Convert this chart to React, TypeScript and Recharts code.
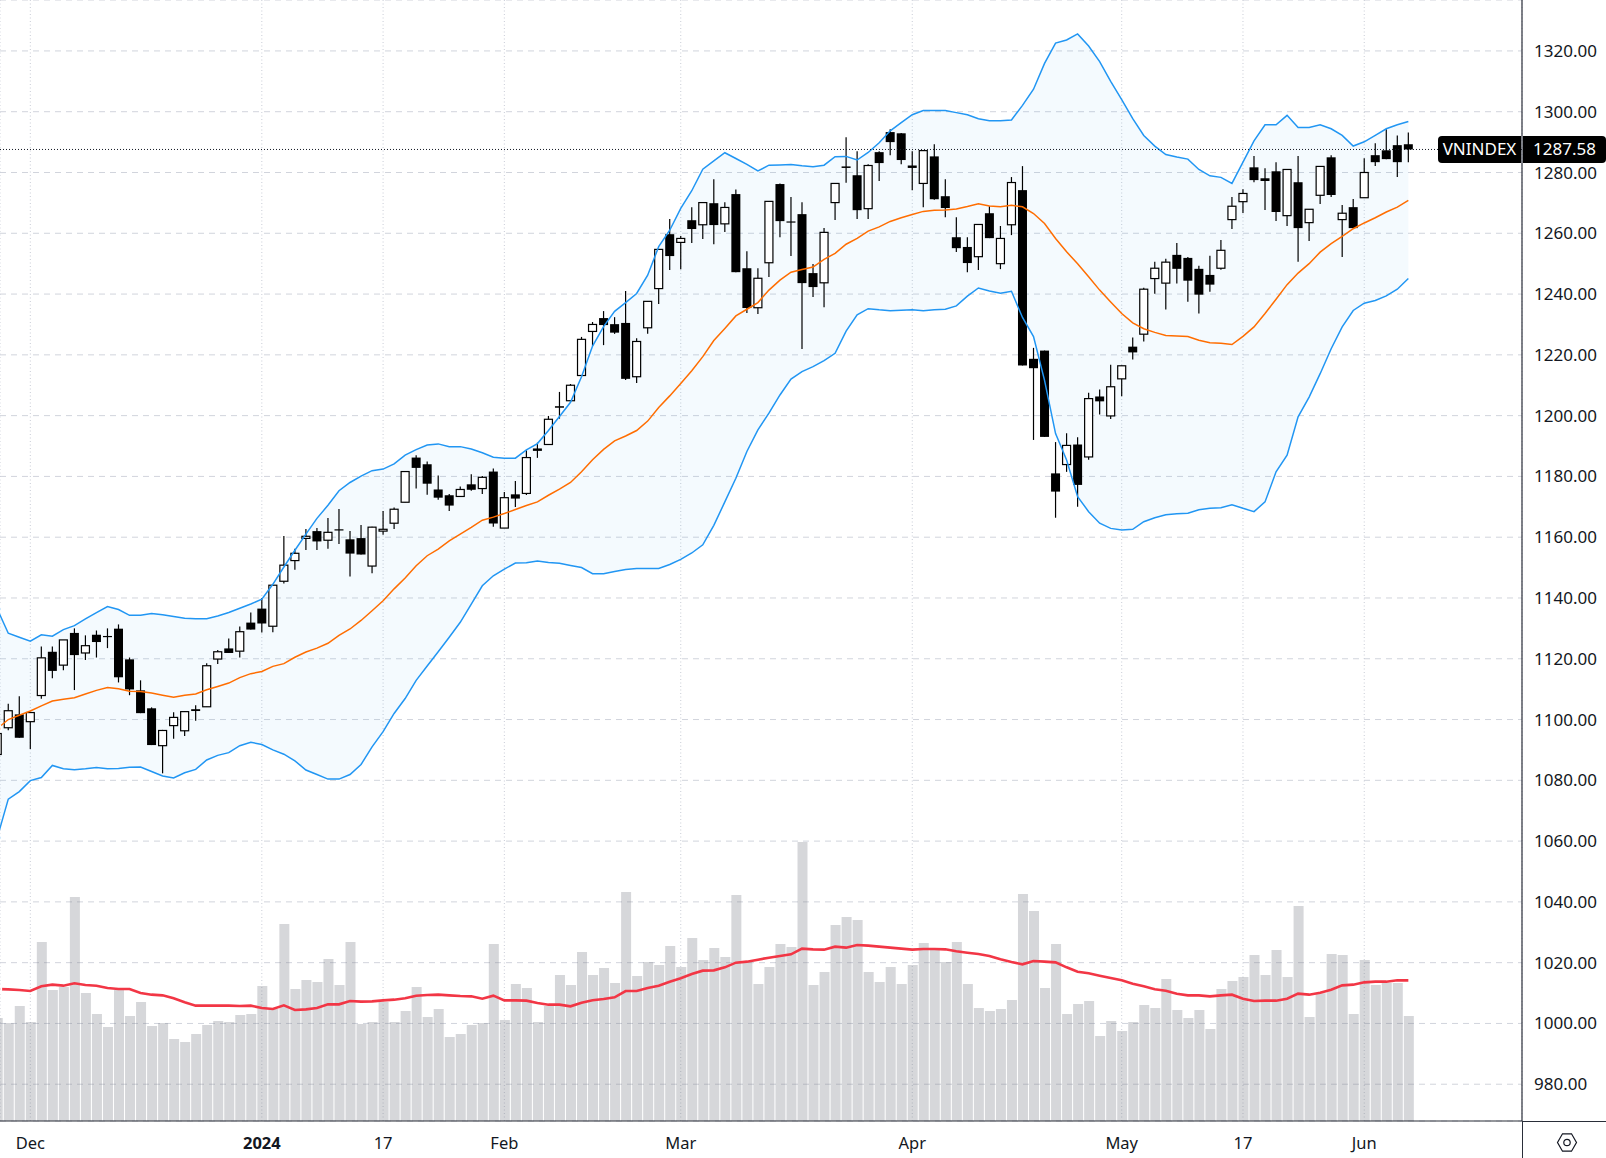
import { Area, Bar, CartesianGrid, ComposedChart, Line, ReferenceLine, XAxis, YAxis } from 'recharts';

const FONT = '"Noto Sans", sans-serif';
const LAST_PRICE = 1287.58;

const priceTicks = [1320, 1300, 1280, 1260, 1240, 1220, 1200, 1180, 1160, 1140, 1120, 1100, 1080, 1060, 1040, 1020, 1000, 980];
const dateTicks = [3, 24, 35, 46, 62, 83, 102, 113, 124];
const dateLabels = ['Dec', '2024', '17', 'Feb', 'Mar', 'Apr', 'May', '17', 'Jun'];

const opens = [
  1088.5, 1097.3, 1101.7, 1099.3, 1107.9, 1122.3, 1117.9, 1128.5, 1121.9, 1127.9, 1127.5, 1129.9, 1119.8, 1109.6, 1103.7, 1091.4,
  1098, 1096.3, 1103.4, 1104.2, 1119.9, 1123.4, 1122.5, 1131.9, 1136.5, 1130.7, 1145.5, 1152.3, 1159.6, 1162, 1159, 1162.6,
  1159.3, 1159.7, 1150.5, 1162, 1164.6, 1171.5, 1186.2, 1184, 1175.7, 1173.8, 1173.4, 1177.4, 1176, 1181.6, 1163, 1174.1,
  1174.4, 1189.2, 1190.5, 1203.1, 1204.9, 1213.2, 1227.7, 1232.1, 1230.1, 1230.5, 1212.8, 1228.9, 1241.8, 1259.7, 1257, 1264.3,
  1262.8, 1269.9, 1263.1, 1272.9, 1248.5, 1235.5, 1250.3, 1276.2, 1263.9, 1266.3, 1246.9, 1243.7, 1270.1, 1282, 1279.1, 1268.1,
  1286.7, 1293.3, 1292.9, 1282.3, 1276.4, 1285.3, 1272.2, 1258.7, 1255.5, 1252.3, 1266.6, 1250, 1262.8, 1274.2, 1218.7, 1221.4,
  1181, 1183.9, 1190.5, 1186.4, 1206.3, 1199.9, 1212.1, 1222.7, 1226.8, 1245.1, 1243.6, 1252.9, 1251.9, 1248.3, 1246.3, 1248.5,
  1264.5, 1270.4, 1281.7, 1278.1, 1280.4, 1265.8, 1276.8, 1263.5, 1272.5, 1285, 1264.5, 1268.6, 1271.7, 1285.7, 1287.3, 1289, 1289.3,
];
const highs = [
  1097, 1105.2, 1107.7, 1102.3, 1124, 1124, 1126.2, 1130, 1127.7, 1129.3, 1130, 1131.3, 1120.4, 1112.9, 1104, 1096.6,
  1102.4, 1102.7, 1104.7, 1118.5, 1122.9, 1126.7, 1130.6, 1135.2, 1140, 1144.3, 1160.4, 1156.2, 1162.7, 1163, 1166.3, 1169.3,
  1162, 1164, 1163.4, 1168.6, 1169.8, 1181.7, 1187, 1184.9, 1180.3, 1174.2, 1176.7, 1180.7, 1180.1, 1182.6, 1174.9, 1178.5,
  1188.6, 1191.1, 1199.9, 1207.8, 1210.4, 1225.9, 1230.8, 1234.4, 1232.4, 1241, 1225.5, 1237.7, 1254.8, 1264.7, 1259.1, 1268.6,
  1270.2, 1277.8, 1270.2, 1274.4, 1254.1, 1248.5, 1270.6, 1276.4, 1271.9, 1270.2, 1249.9, 1261.7, 1276.5, 1291.6, 1287, 1282.7,
  1287, 1294.2, 1293, 1287, 1287.3, 1289.3, 1277.8, 1265.3, 1258.7, 1263, 1268.9, 1262.4, 1278.5, 1282.1, 1222.3, 1221.4,
  1191.3, 1194.2, 1192.9, 1207.5, 1208.6, 1216.7, 1216.5, 1225.7, 1242.1, 1250.6, 1251.6, 1256.8, 1252.2, 1249.3, 1252.6, 1257.8,
  1271.9, 1274.5, 1285.4, 1281.4, 1283.4, 1281.1, 1285.4, 1268, 1282.1, 1285.7, 1269.3, 1271.3, 1284.7, 1289.6, 1294.2, 1292.2, 1293.2,
];
const lows = [
  1087, 1096.5, 1094, 1090.3, 1106.8, 1113.6, 1116.2, 1109.7, 1119.6, 1120.4, 1123.5, 1112.2, 1108, 1102.1, 1091.6, 1082.3,
  1093.7, 1094.6, 1099.6, 1104.2, 1118.3, 1121.9, 1120.4, 1129.6, 1128.6, 1128.7, 1144.8, 1149.3, 1155.8, 1155.8, 1156.2, 1157.8,
  1147.1, 1154.3, 1148.1, 1160.8, 1162.7, 1171.5, 1176, 1174, 1172.3, 1168.6, 1173.4, 1175.3, 1174.2, 1163.4, 1163, 1169.9,
  1173.9, 1186.1, 1190.5, 1199, 1204.6, 1213, 1222.9, 1223.2, 1226.9, 1211.7, 1210.7, 1226.9, 1236.7, 1247.9, 1248.2, 1256.8,
  1258.1, 1256.4, 1260.4, 1247.2, 1233.8, 1233.4, 1245.6, 1258.7, 1252.5, 1221.9, 1239, 1235.7, 1264.4, 1276.6, 1264.7, 1264.7,
  1277.2, 1285.7, 1282.7, 1274.2, 1268.6, 1271, 1265.3, 1253.8, 1247.2, 1247.9, 1258.4, 1248.2, 1259.4, 1216.5, 1192, 1193,
  1166.4, 1181.5, 1170, 1185.5, 1200.4, 1198.9, 1206.4, 1218.5, 1224.4, 1240.1, 1234.9, 1243.5, 1237.5, 1233.6, 1240.8, 1248,
  1261.4, 1266.7, 1276.8, 1267.7, 1264, 1262.4, 1250.6, 1257.5, 1269.6, 1271.9, 1252.2, 1261.7, 1271.7, 1282.1, 1284.4, 1278.5, 1283.4,
];
const closes = [
  1095.4, 1102.9, 1094, 1102.3, 1120.3, 1116, 1126.2, 1121.2, 1124.3, 1125.5, 1127.4, 1113.9, 1109.9, 1102.1, 1091.6, 1096.4,
  1100.7, 1102.6, 1102.8, 1117.7, 1122.3, 1121.9, 1128.9, 1129.6, 1131.6, 1144.2, 1150.8, 1154.7, 1160.3, 1158.6, 1161.6, 1162.2,
  1154.6, 1154.3, 1163.3, 1162.6, 1169.2, 1181.6, 1182.8, 1177.6, 1173, 1170.4, 1175.7, 1175.6, 1179.7, 1164.5, 1173, 1172.7,
  1186.2, 1188.4, 1198.8, 1202.6, 1210, 1225.1, 1230, 1229.8, 1227.3, 1212.1, 1224.4, 1237.6, 1254.7, 1252.5, 1258.3, 1261.4,
  1270.1, 1262.7, 1268.5, 1247.2, 1235.4, 1245.2, 1270.5, 1264, 1263.8, 1243.6, 1242.3, 1260.3, 1276.4, 1281.5, 1267.6, 1282.3,
  1283.1, 1290, 1284.1, 1281.5, 1287.2, 1271.2, 1268.3, 1255.1, 1250.2, 1262.9, 1258.4, 1258.3, 1276.7, 1216.5, 1215.6, 1193,
  1175, 1190.2, 1177.2, 1205.6, 1204.7, 1209.5, 1216.4, 1220.8, 1241.6, 1248.5, 1250.5, 1248.3, 1244.4, 1239.8, 1243.1, 1254.4,
  1268.9, 1273.1, 1277.5, 1277.2, 1267, 1281, 1261.7, 1267.9, 1282, 1272.6, 1266.6, 1261.7, 1280, 1283.4, 1284.4, 1283.4, 1287.58,
];
const bbUpper = [
  1136.4, 1128.4, 1127.1, 1125.8, 1127.9, 1127.4, 1129.6, 1130.9, 1133.1, 1135.2, 1137.2, 1136.2, 1134.3, 1134.3, 1134.9, 1134.5,
  1133.9, 1133.3, 1133.2, 1133.2, 1134.1, 1135.2, 1136.6, 1138, 1139.6, 1144.5, 1150.2, 1155.7, 1161, 1166.2, 1170.5, 1175.3,
  1178, 1180.1, 1181.9, 1182.4, 1184.1, 1187, 1188.8, 1190.3, 1190.7, 1189.8, 1189.8, 1189, 1187.8, 1186.3, 1186, 1186,
  1188.7, 1190.8, 1195.1, 1199.7, 1204.4, 1212.8, 1222.9, 1229.3, 1234.3, 1237.2, 1240.2, 1246.2, 1255.6, 1261, 1268.2, 1274,
  1281.1, 1283.8, 1286.5, 1284.6, 1282.7, 1280.5, 1282.4, 1282.5, 1282.6, 1282.2, 1281.9, 1282.4, 1285.2, 1285.3, 1284.1, 1286.6,
  1289.8, 1293.7, 1296.4, 1299, 1300.4, 1300.4, 1300.4, 1299.7, 1299, 1297.7, 1297, 1297, 1297.3, 1302.1, 1307.4, 1315.9,
  1322.6, 1323.6, 1325.6, 1321.6, 1316.5, 1310, 1304, 1297.7, 1292.2, 1288.7, 1285.9, 1285.1, 1284.4, 1281, 1278.9, 1278.4,
  1276.4, 1283.4, 1290.4, 1295.7, 1295.7, 1298.8, 1294.8, 1294.8, 1295.7, 1294.4, 1292.2, 1288.7, 1290.1, 1292.2, 1294.4, 1295.7, 1296.8,
];
const bbMiddle = [
  1097, 1100, 1101.4, 1102.8, 1104.5, 1106.1, 1106.7, 1107.2, 1108.4, 1109.6, 1110.5, 1110.1, 1109.3, 1109.2, 1108.7, 1108,
  1107.3, 1108, 1108.4, 1109.8, 1110.9, 1112, 1113.8, 1115.1, 1115.8, 1117.5, 1118.4, 1120.5, 1122.2, 1123.5, 1125.1, 1127.7,
  1129.8, 1132.6, 1135.8, 1139.1, 1143, 1146.6, 1150.6, 1153.9, 1156.1, 1158.8, 1161, 1163.2, 1165.6, 1166.6, 1167.8, 1169.1,
  1170.4, 1171.6, 1173.8, 1175.8, 1178, 1181.5, 1185.5, 1188.9, 1191.7, 1193.3, 1195.1, 1198.2, 1202.7, 1206.5, 1210.6, 1214.8,
  1219.4, 1224.7, 1228.7, 1232.8, 1235, 1237.2, 1241.3, 1244.6, 1247.2, 1248.1, 1248.9, 1251.4, 1253.4, 1256.4, 1258.3, 1260.7,
  1262.1, 1263.9, 1265.1, 1266.2, 1267.2, 1267.6, 1267.7, 1268, 1268.8, 1269.7, 1269, 1268.7, 1269.2, 1268.7, 1266.5, 1263.2,
  1258.3, 1253.9, 1250, 1245.7, 1241.3, 1237.4, 1233.6, 1230.5, 1228.6, 1227.4, 1226.4, 1226.2, 1226, 1224.8, 1224, 1223.8,
  1223.4, 1226.1, 1229.2, 1233.6, 1238.3, 1243.1, 1246.9, 1250, 1253.8, 1256.6, 1259, 1261.5, 1263.4, 1265.1, 1267, 1268.6, 1270.8,
];
const bbLower = [
  1061.1, 1073.8, 1076.3, 1079.9, 1080.9, 1084.9, 1083.8, 1083.5, 1083.8, 1084.2, 1083.8, 1083.9, 1084.3, 1084.4, 1082.9, 1081.4,
  1080.8, 1082.5, 1083.6, 1086.7, 1088.2, 1089.1, 1091.4, 1092.5, 1091.8, 1090, 1088.6, 1086.4, 1083.4, 1081.9, 1080.4, 1080.4,
  1081.9, 1085.2, 1091, 1096, 1102, 1106.9, 1112.9, 1117.6, 1122.3, 1127.1, 1132, 1138, 1144, 1147.3, 1149.5, 1151.5,
  1151.6, 1152.2, 1151.7, 1151.4, 1150.7, 1150, 1148, 1148, 1148.7, 1149.4, 1149.7, 1149.7, 1149.7, 1151, 1152.7, 1154.8,
  1157.5, 1163.9, 1171.6, 1179.4, 1188.2, 1195.3, 1200.8, 1206.8, 1212, 1214.5, 1216.1, 1218.1, 1220.5, 1227.8, 1233.2, 1235.2,
  1234.8, 1234.5, 1234.7, 1234.8, 1234.5, 1234.8, 1235, 1236.1, 1239.3, 1242, 1241, 1240.3, 1240.9, 1232.3, 1226, 1211.6,
  1194.1, 1185.4, 1173.3, 1168.4, 1164.6, 1162.9, 1162.4, 1162.6, 1165.1, 1166.4, 1167.4, 1167.7, 1167.9, 1169, 1169.5, 1169.7,
  1170.7, 1169.5, 1168.4, 1171.6, 1181.5, 1187, 1199.6, 1206.1, 1213.8, 1222, 1229.2, 1234.6, 1237, 1237.9, 1239.4, 1241.6, 1245.1,
];
const volumes = [
  309, 294, 345, 297, 537, 393, 402, 672, 384, 321, 282, 393, 315, 357, 285, 294,
  246, 237, 261, 288, 300, 297, 318, 321, 405, 336, 591, 396, 423, 417, 486, 408,
  537, 291, 297, 357, 297, 330, 402, 312, 336, 252, 261, 288, 294, 531, 303, 411,
  399, 297, 345, 438, 408, 507, 438, 459, 414, 687, 435, 477, 468, 525, 462, 549,
  483, 519, 492, 678, 478, 411, 462, 531, 522, 837, 408, 447, 588, 612, 603, 447,
  417, 462, 411, 468, 534, 516, 477, 537, 411, 339, 330, 336, 363, 681, 630, 399,
  531, 321, 351, 360, 255, 300, 270, 297, 348, 339, 426, 333, 309, 333, 276, 396,
  420, 432, 498, 438, 513, 432, 645, 312, 383, 501, 498, 321, 483, 408, 414, 414, 315,
];
const volumeMa = [
  396, 395, 393, 390, 404, 409, 406, 413, 408, 406, 399, 396, 396, 384, 379, 377,
  368, 356, 346, 346, 346, 346, 345, 346, 339, 336, 347, 333, 335, 339, 350, 350,
  360, 358, 359, 362, 364, 368, 376, 378, 379, 377, 375, 374, 367, 376, 362, 362,
  361, 354, 349, 349, 344, 355, 362, 366, 371, 390, 390, 399, 406, 418, 428, 441,
  451, 452, 461, 475, 478, 484, 490, 495, 500, 517, 515, 514, 523, 520, 528, 526,
  523, 520, 517, 514, 516, 516, 515, 509, 505, 501, 495, 485, 477, 470, 480, 478,
  476, 461, 448, 443, 436, 429, 422, 412, 404, 395, 391, 382, 377, 377, 374, 377,
  379, 367, 360, 361, 361, 367, 382, 379, 385, 394, 407, 409, 416, 418, 418, 422, 422,
];

const data = opens.map((open, i) => ({
  idx: i,
  open,
  high: highs[i],
  low: lows[i],
  close: closes[i],
  volume: volumes[i],
  volumeMa: volumeMa[i],
  upper: bbUpper[i],
  middle: bbMiddle[i],
  lower: bbLower[i],
}));

const Candle = ({ x, y, width, height, payload }: any) => {
  const { open, high, low, close } = payload;
  const perUnit = height / (high - low);
  const top = y + (high - Math.max(open, close)) * perUnit;
  const bodyHeight = Math.abs(open - close) * perUnit;
  const center = x + width / 2;
  const isUp = close >= open;
  return (
    <g>
      <line x1={center} x2={center} y1={y} y2={y + height} stroke="#000" strokeWidth={1.2} />
      {isUp ? (
        <rect x={x + 0.5} y={top} width={width - 1} height={Math.max(bodyHeight, 1)} fill="#fff" stroke="#000" strokeWidth={1.2} />
      ) : (
        <rect x={x} y={top} width={width} height={Math.max(bodyHeight, 1.2)} fill="#000" />
      )}
    </g>
  );
};

const DateTick = ({ x, y, payload }: any) => {
  const label = dateLabels[dateTicks.indexOf(payload.value)];
  return (
    <text x={x} y={y + 20} textAnchor="middle" fontFamily={FONT} fontSize={16.5} fontWeight={label === '2024' ? 700 : 400} fill="#131722">
      {label}
    </text>
  );
};

export default function App() {
  return (
    <div style={{ position: 'absolute', left: 0, top: 0, width: 1606, height: 1158, background: '#fff', overflow: 'hidden' }}>
      <ComposedChart width={1606} height={1158} data={data} margin={{ top: 0, right: 0, bottom: 0, left: 0 }}>
        <XAxis
          xAxisId="date"
          dataKey="idx"
          type="number"
          domain={[0.25, 138.31]}
          allowDataOverflow
          ticks={dateTicks}
          interval={0}
          height={37}
          tickLine={false}
          tick={<DateTick />}
          axisLine={{ stroke: '#2a2e39', strokeWidth: 1.2 }}
        />
        <XAxis xAxisId="candles" dataKey="idx" type="number" domain={[0.25, 138.31]} allowDataOverflow hide height={0} />
        <YAxis
          yAxisId="price"
          orientation="right"
          width={84}
          domain={[967.9, 1336.76]}
          allowDataOverflow
          ticks={priceTicks}
          interval={0}
          tickSize={0}
          tickMargin={12}
          tickLine={false}
          tick={{ fill: '#131722', fontSize: 17, fontFamily: FONT }}
          tickFormatter={(v: number) => v.toFixed(2)}
          axisLine={{ stroke: '#2a2e39', strokeWidth: 1.2 }}
        />
        <YAxis yAxisId="volume" domain={[0, 3363]} allowDataOverflow hide />

        <CartesianGrid xAxisId="date" yAxisId="price" vertical={false} stroke="#d1d4dc" strokeDasharray="6 5" />
        <CartesianGrid xAxisId="date" yAxisId="price" horizontal={false} stroke="#c8ccd6" strokeDasharray="1 2.5" />

        <Area
          xAxisId="date"
          yAxisId="price"
          type="linear"
          dataKey={(d: any) => [d.lower, d.upper]}
          stroke="none"
          fill="#2196f3"
          fillOpacity={0.05}
          isAnimationActive={false}
        />
        <Bar xAxisId="date" yAxisId="volume" dataKey="volume" barSize={10} fill="#787b86" fillOpacity={0.3} isAnimationActive={false} />
        <Line xAxisId="date" yAxisId="volume" type="linear" dataKey="volumeMa" stroke="#f23645" strokeWidth={2.6} dot={false} isAnimationActive={false} />
        <Line xAxisId="date" yAxisId="price" type="linear" dataKey="upper" stroke="#2196f3" strokeWidth={1.5} dot={false} isAnimationActive={false} />
        <Line xAxisId="date" yAxisId="price" type="linear" dataKey="lower" stroke="#2196f3" strokeWidth={1.5} dot={false} isAnimationActive={false} />
        <Line xAxisId="date" yAxisId="price" type="linear" dataKey="middle" stroke="#ff6d00" strokeWidth={1.5} dot={false} isAnimationActive={false} />
        <Bar
          xAxisId="candles"
          yAxisId="price"
          dataKey={(d: any) => [d.low, d.high]}
          barSize={9}
          shape={<Candle />}
          isAnimationActive={false}
        />
        <ReferenceLine xAxisId="date" yAxisId="price" y={LAST_PRICE} stroke="#131722" strokeDasharray="1 2" />
      </ComposedChart>

      <div style={{ position: 'absolute', left: 1522, top: 1121, width: 84, height: 1, background: '#2a2e39' }} />
      <div style={{ position: 'absolute', left: 1522, top: 1121, width: 1, height: 37, background: '#2a2e39' }} />
      <div style={badge(1438, 83, '4px 0 0 4px')}>VNINDEX</div>
      <div style={badge(1523, 83, '0 4px 4px 0')}>{LAST_PRICE.toFixed(2)}</div>
      <svg style={{ position: 'absolute', left: 1555, top: 1131 }} width={24} height={24} viewBox="0 0 24 24">
        <path d="M2.5 11.5 L7.5 2.8 H16.5 L21.5 11.5 L16.5 20.2 H7.5 Z" fill="none" stroke="#131722" strokeWidth={1.2} />
        <circle cx={12} cy={11.5} r={3.2} fill="none" stroke="#131722" strokeWidth={1.2} />
      </svg>
    </div>
  );
}

function badge(left: number, width: number, borderRadius: string): React.CSSProperties {
  return {
    position: 'absolute',
    left,
    top: 136,
    width,
    height: 27,
    lineHeight: '26px',
    textAlign: 'center',
    background: '#000',
    color: '#fff',
    fontFamily: FONT,
    fontSize: 17,
    borderRadius,
  };
}
